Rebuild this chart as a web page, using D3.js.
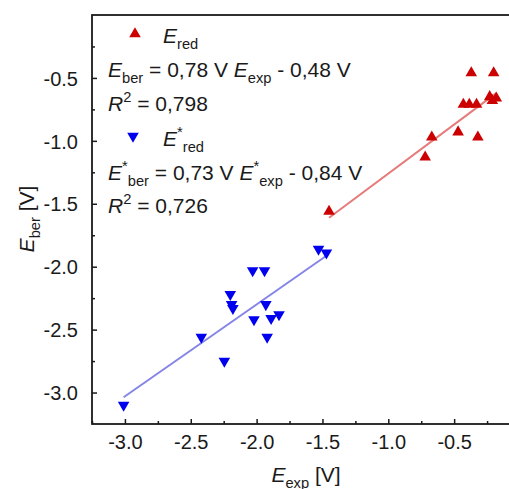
<!DOCTYPE html>
<html>
<head>
<meta charset="utf-8">
<script src="https://cdn.jsdelivr.net/npm/d3@7"></script>
<style>
    body { margin: 0; background: #fff; }
    svg { display: block; font-family: Arial, 'Liberation Sans', sans-serif; }
</style>
</head>
<body>
<svg id="chart" width="509" height="489"></svg>
<script>
// E_red series (red, up triangles)
const redX = [-1.45, -0.72, -0.67, -0.47, -0.32, -0.43, -0.385, -0.33, -0.37, -0.20, -0.23, -0.18, -0.21]
const redY = [-1.56, -1.13, -0.97, -0.93, -0.97, -0.71, -0.71, -0.71, -0.46, -0.46, -0.65, -0.66, -0.68]
// E*_red series (blue, down triangles)
const blueX = [-3.01, -2.42, -2.245, -2.20, -2.19, -2.18, -2.03, -1.94, -1.93, -2.02, -1.89, -1.83, -1.92, -1.53, -1.47]
const blueY = [-3.10, -2.56, -2.75, -2.22, -2.30, -2.33, -2.03, -2.03, -2.30, -2.42, -2.41, -2.38, -2.56, -1.86, -1.89]
// linear fits from the legend
const redFit = { slope: 0.78, intercept: -0.48 }
const blueFit = { slope: 0.73, intercept: -0.84 }

const xTicks = [-3.0, -2.5, -2.0, -1.5, -1.0, -0.5]
const yTicks = [-0.5, -1.0, -1.5, -2.0, -2.5, -3.0]
const xMinor = [-3.25, -2.75, -2.25, -1.75, -1.25, -0.75, -0.25]
const yMinor = [-0.25, -0.75, -1.25, -1.75, -2.25, -2.75]

const svg = d3.select('#chart')

const x = d3.scaleLinear().domain([-3.25, 0]).range([92, 520])
const y = d3.scaleLinear().domain([-3.25, 0]).range([424, 15])

const fmt = d => d.toFixed(1)

// frame
svg.append('rect')
    .attr('x', x(-3.25))
    .attr('y', y(0))
    .attr('width', x(0) - x(-3.25))
    .attr('height', y(-3.25) - y(0))
    .attr('fill', 'none')
    .attr('stroke', '#1a1a1a')
    .attr('stroke-width', 1.8)

// axes, ticks inward
const xAxis = svg.append('g')
    .attr('transform', `translate(0,${y(-3.25)})`)
    .call(d3.axisBottom(x).tickValues(xTicks).tickFormat(fmt).tickSize(-5).tickPadding(11))
const xAxisMinor = svg.append('g')
    .attr('transform', `translate(0,${y(-3.25)})`)
    .call(d3.axisBottom(x).tickValues(xMinor).tickFormat('').tickSize(-3))

const yAxis = svg.append('g')
    .attr('transform', `translate(${x(-3.25)},0)`)
    .call(d3.axisLeft(y).tickValues(yTicks).tickFormat(fmt).tickSize(-5).tickPadding(14))
const yAxisMinor = svg.append('g')
    .attr('transform', `translate(${x(-3.25)},0)`)
    .call(d3.axisLeft(y).tickValues(yMinor).tickFormat('').tickSize(-3))

for (const g of [xAxis, xAxisMinor, yAxis, yAxisMinor]) {
    g.select('.domain').remove()
    g.selectAll('.tick line').attr('stroke', '#1a1a1a').attr('stroke-width', 1.5)
    g.selectAll('.tick text')
        .attr('font-size', 20)
        .attr('fill', '#1a1a1a')
        .attr('font-family', "Arial, 'Liberation Sans', sans-serif")
}
yAxis.selectAll('.tick text').attr('dy', '0.36em')

// fit lines
function drawFit (xs, fit, color) {
    const x0 = d3.min(xs)
    const x1 = d3.max(xs)
    svg.append('line')
        .attr('x1', x(x0))
        .attr('y1', y(fit.slope * x0 + fit.intercept))
        .attr('x2', x(x1))
        .attr('y2', y(fit.slope * x1 + fit.intercept))
        .attr('stroke', color)
        .attr('stroke-width', 2)
}
drawFit(redX, redFit, '#e57b7b')
drawFit(blueX, blueFit, '#8585e8')

const tri = d3.symbol().type(d3.symbolTriangle).size(58)

svg.append('g')
    .selectAll('path')
    .data(redX.map((v, i) => [v, redY[i]]))
    .join('path')
    .attr('d', tri)
    .attr('transform', d => `translate(${x(d[0])},${y(d[1])})`)
    .attr('fill', '#cc0000')

svg.append('g')
    .selectAll('path')
    .data(blueX.map((v, i) => [v, blueY[i]]))
    .join('path')
    .attr('d', tri)
    .attr('transform', d => `translate(${x(d[0])},${y(d[1])}) rotate(180)`)
    .attr('fill', '#0000ee')

// legend and equations
const fs = 21
function richText (xPos, yPos, parts, size) {
    const t = svg.append('text')
        .attr('x', xPos)
        .attr('y', yPos)
        .attr('font-size', size || fs)
        .attr('fill', '#1a1a1a')
    let shift = 0
    for (const p of parts) {
        const s = t.append('tspan').text(p.t)
        let target = 0
        if (p.sub) { target = 6; s.attr('font-size', (size || fs) * 0.7) }
        if (p.sup) { target = -9; s.attr('font-size', (size || fs) * 0.7) }
        if (p.it) s.attr('font-style', 'italic')
        s.attr('dy', target - shift)
        shift = target
    }
    return t
}

svg.append('path')
    .attr('d', tri)
    .attr('transform', 'translate(135,34)')
    .attr('fill', '#cc0000')
richText(163, 43, [{ t: 'E', it: true }, { t: 'red', sub: true }])
richText(108, 77, [
    { t: 'E', it: true }, { t: 'ber', sub: true },
    { t: ' = 0,78 V ' }, { t: 'E', it: true }, { t: 'exp', sub: true }, { t: ' - 0,48 V' }
])
richText(108, 111, [{ t: 'R', it: true }, { t: '2', sup: true }, { t: ' = 0,798' }])

svg.append('path')
    .attr('d', tri)
    .attr('transform', 'translate(133,136) rotate(180)')
    .attr('fill', '#0000ee')
richText(163, 146, [{ t: 'E', it: true }, { t: '*', sup: true }, { t: 'red', sub: true }])
richText(108, 180, [
    { t: 'E', it: true }, { t: '*', sup: true }, { t: 'ber', sub: true },
    { t: ' = 0,73 V ' }, { t: 'E', it: true }, { t: '*', sup: true }, { t: 'exp', sub: true }, { t: ' - 0,84 V' }
])
richText(108, 213, [{ t: 'R', it: true }, { t: '2', sup: true }, { t: ' = 0,726' }])

// axis titles
richText(0, 0, [{ t: 'E', it: true }, { t: 'ber', sub: true }, { t: ' [V]' }])
    .attr('text-anchor', 'middle')
    .attr('transform', 'translate(34,219) rotate(-90)')
richText(306, 482, [{ t: 'E', it: true }, { t: 'exp', sub: true }, { t: ' [V]' }])
    .attr('text-anchor', 'middle')
</script>
</body>
</html>
